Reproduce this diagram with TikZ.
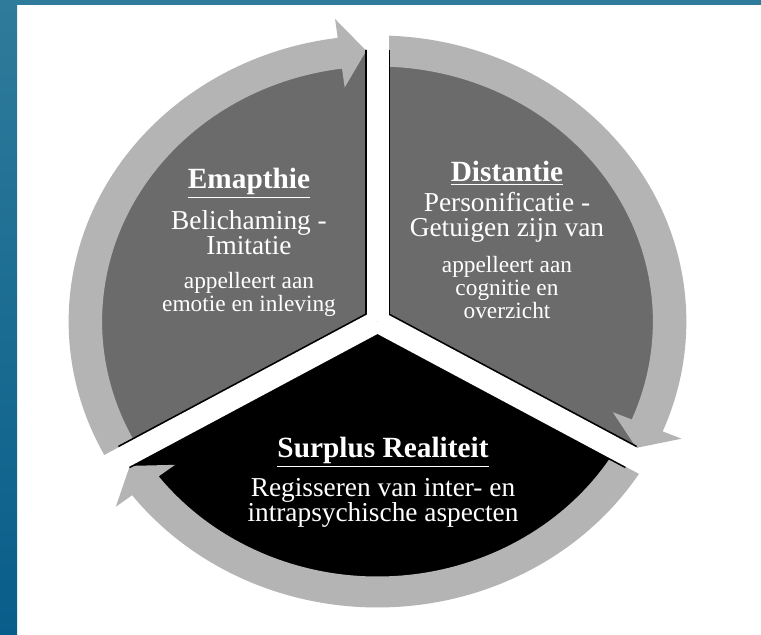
\documentclass[tikz,border=0pt]{standalone}
\usepackage{fontspec}
\setmainfont{Liberation Serif}
\definecolor{bandtop}{RGB}{47,123,155}
\definecolor{bandbot}{RGB}{8,94,138}
\definecolor{wedgegrey}{RGB}{107,107,107}
\definecolor{ringgrey}{RGB}{180,180,180}
\begin{document}
\lineskiplimit=-100pt
\begin{tikzpicture}[x=0.75pt,y=0.75pt,
    wedge/.style={fill=wedgegrey},
    ringarrow/.style={fill=ringgrey},
    gapedge/.style={draw=black,line width=19pt},
    gapfill/.style={draw=white,line width=16.5pt},
    title/.style={text=white,anchor=base,inner sep=0pt,
      font=\fontsize{22}{24}\selectfont\bfseries},
    body/.style={text=white,anchor=base,inner sep=0pt,align=center,
      font=\fontsize{20.5}{19}\selectfont},
    note/.style={text=white,anchor=base,inner sep=0pt,align=center,
      font=\fontsize{17.5}{17.3}\selectfont}]
  \useasboundingbox (0,0) rectangle (761,635);
  \fill[white] (0,0) rectangle (761,635);
  % frame
  \fill[bandtop] (0,630) rectangle (761,635);
  \shade[top color=bandtop,bottom color=bandbot] (0,0) rectangle (17,635);
  % cycle
  \begin{scope}[shift={(377.5,313.5)},xscale=1.08]
    \coordinate (c) at (0,0);
    \fill[wedge] (c) -- (90:272) arc[start angle=90,end angle=210,radius=272] -- cycle;
    \fill[wedge] (c) -- (-30:272) arc[start angle=-30,end angle=90,radius=272] -- cycle;
    \fill[black] (c) -- (210:272) arc[start angle=210,end angle=330,radius=272] -- cycle;
    \fill[ringarrow] (210:255) arc[start angle=210,end angle=97.4,radius=255]
      -- (97.4:236) -- (92.2:271) -- (97.4:305) -- (97.4:286)
      arc[start angle=97.4,end angle=210,radius=286] -- cycle;
    \fill[ringarrow] (90:255) arc[start angle=90,end angle=-22.6,radius=255]
      -- (-22.6:236) -- (-27.8:271) -- (-22.6:305) -- (-22.6:286)
      arc[start angle=-22.6,end angle=90,radius=286] -- cycle;
    \fill[ringarrow] (-30:255) arc[start angle=-30,end angle=-142.6,radius=255]
      -- (-142.6:236) -- (-147.8:271) -- (-142.6:305) -- (-142.6:286)
      arc[start angle=-142.6,end angle=-30,radius=286] -- cycle;
    \coordinate (gtop) at (90:271);
    \coordinate (gleft) at (210:271);
    \coordinate (gright) at (330:271);
    \draw[gapedge] (c) -- (gtop);
    \draw[gapedge] (c) -- (gleft);
    \draw[gapedge] (c) -- (gright);
    \draw[gapfill] (c) -- (90:300);
    \draw[gapfill] (c) -- (210:300);
    \draw[gapfill] (c) -- (330:300);
  \end{scope}
  % texts (base = last line)
  \node[title] (emptitle) at (249,446) {\underline{Emapthie}};
  \node[body] (empbody) at (249,380) {Belichaming -\\Imitatie};
  \node[note] (empnote) at (249,323) {appelleert aan\\emotie en inleving};
  \node[title] (distitle) at (507,453) {\underline{Distantie}};
  \node[body] (disbody) at (507,398) {Personificatie -\\Getuigen zijn van};
  \node[note] (disnote) at (507,316) {appelleert aan\\cognitie en\\overzicht};
  \node[title] (surtitle) at (383,177) {\underline{Surplus Realiteit}};
  \node[body] (surbody) at (383,113) {Regisseren van inter- en\\intrapsychische aspecten};
\end{tikzpicture}
\end{document}
